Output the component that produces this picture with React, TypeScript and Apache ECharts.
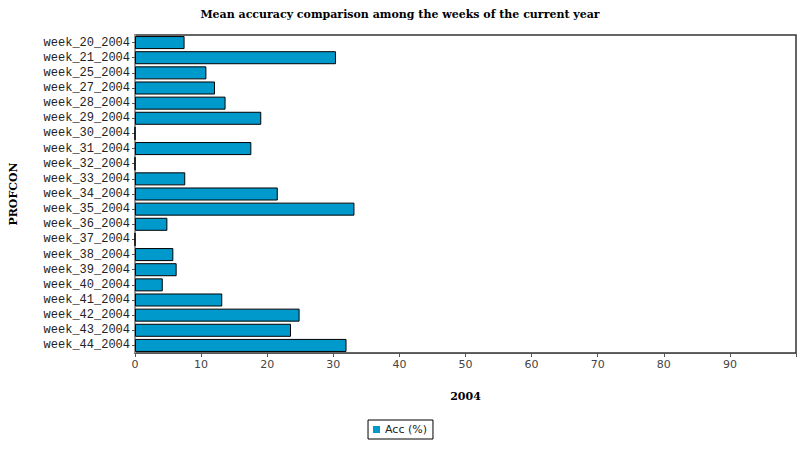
import React, { useEffect, useRef } from "react";
import * as echarts from "echarts";

const categories = [
  "week_20_2004", "week_21_2004", "week_25_2004", "week_27_2004", "week_28_2004",
  "week_29_2004", "week_30_2004", "week_31_2004", "week_32_2004", "week_33_2004",
  "week_34_2004", "week_35_2004", "week_36_2004", "week_37_2004", "week_38_2004",
  "week_39_2004", "week_40_2004", "week_41_2004", "week_42_2004", "week_43_2004",
  "week_44_2004",
];
const accValues = [
  7.5, 30.4, 10.8, 12.1, 13.7,
  19.1, 0, 17.6, 0, 7.6,
  21.6, 33.2, 4.9, 0, 5.8,
  6.3, 4.2, 13.2, 24.9, 23.6,
  32.0,
];
const xMin = 0;
const xMax = 100;
const xInterval = 10;

export default function App() {
  const ref = useRef<HTMLDivElement>(null);
  useEffect(() => {
    if (!ref.current) return;
    const chart = echarts.init(ref.current, null, { renderer: "svg" });
    chart.setOption({
      animation: false,
      backgroundColor: "#fff",
      title: {
        text: "Mean accuracy comparison among the weeks of the current year",
        left: "center",
        top: 4,
        textStyle: { fontFamily: "DejaVu Serif", fontWeight: "bold", fontSize: 11, color: "#000" },
      },
      grid: {
        left: 132, right: 4, top: 35, bottom: 97,
        show: true, borderColor: "#333", borderWidth: 1.5, backgroundColor: "#fff",
      },
      legend: {
        data: ["Acc (%)"],
        left: "center",
        top: 420,
        icon: "rect",
        itemWidth: 7,
        itemHeight: 7,
        itemGap: 5,
        padding: [4, 6, 4, 5],
        borderColor: "#000",
        borderWidth: 1,
        itemStyle: { borderWidth: 0 },
        textStyle: { fontFamily: "DejaVu Sans", fontSize: 11, color: "#222" },
      },
      xAxis: {
        type: "value",
        min: xMin,
        max: xMax,
        interval: xInterval,
        name: "2004",
        nameLocation: "middle",
        nameGap: 38,
        nameTextStyle: { fontFamily: "DejaVu Serif", fontWeight: "bold", fontSize: 11, color: "#000" },
        axisLine: { show: true, lineStyle: { color: "#555" } },
        axisTick: { show: true, length: 4, lineStyle: { color: "#555" } },
        splitLine: { show: false },
        axisLabel: {
          fontFamily: "DejaVu Sans", fontSize: 11, color: "#444", margin: 6,
          formatter: (v: number) => (v === xMax ? "" : String(v)),
        },
      },
      yAxis: {
        type: "category",
        inverse: true,
        data: categories,
        name: "PROFCON",
        nameLocation: "middle",
        nameRotate: 90,
        nameGap: 116,
        nameTextStyle: { fontFamily: "DejaVu Serif", fontWeight: "bold", fontSize: 11, color: "#000" },
        axisLine: { show: true, lineStyle: { color: "#999", width: 2 } },
        axisTick: { show: true, length: 3, alignWithLabel: true, interval: 0, lineStyle: { color: "#555" } },
        axisLabel: { fontFamily: "Liberation Mono", fontSize: 12, color: "#222", margin: 5, interval: 0 },
      },
      series: [
        {
          name: "Acc (%)",
          type: "bar",
          data: accValues,
          barCategoryGap: "14%",
          itemStyle: { color: "#0099CC", borderColor: "#000", borderWidth: 1 },
        },
      ],
    });
    return () => chart.dispose();
  }, []);
  return <div ref={ref} style={{ position: "absolute", left: 0, top: 0, width: 800, height: 450 }} />;
}
